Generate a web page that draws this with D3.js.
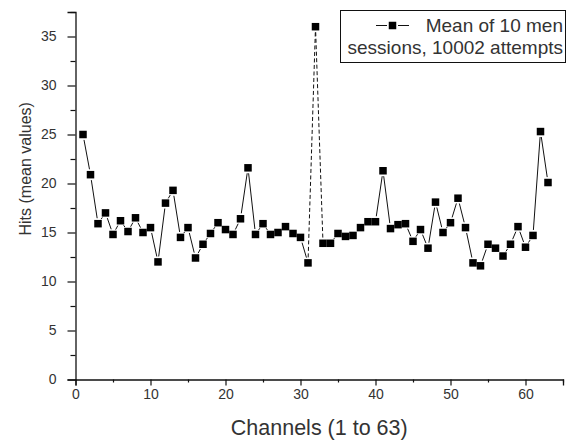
<!DOCTYPE html>
<html>
<head>
<meta charset="utf-8">
<script src="https://cdn.jsdelivr.net/npm/d3@7"></script>
<style>
  html, body { margin: 0; padding: 0; background: #fff; }
  svg { display: block; font-family: Arial, "Liberation Sans", sans-serif; }
</style>
</head>
<body>
<svg id="chart" width="571" height="443"></svg>
<script>
// Channel numbers 1..63
const channels = [
  1, 2, 3, 4, 5, 6, 7, 8, 9, 10,
  11, 12, 13, 14, 15, 16, 17, 18, 19, 20,
  21, 22, 23, 24, 25, 26, 27, 28, 29, 30,
  31, 32, 33, 34, 35, 36, 37, 38, 39, 40,
  41, 42, 43, 44, 45, 46, 47, 48, 49, 50,
  51, 52, 53, 54, 55, 56, 57, 58, 59, 60,
  61, 62, 63
];

// Mean hits per channel (10 men sessions, 10002 attempts)
const meanHits = [
  25.0, 20.9, 15.9, 17.0, 14.8, 16.2, 15.1, 16.5, 15.0, 15.5,
  12.0, 18.0, 19.3, 14.5, 15.5, 12.4, 13.8, 14.9, 16.0, 15.3,
  14.8, 16.4, 21.6, 14.8, 15.9, 14.8, 15.0, 15.6, 14.9, 14.5,
  11.9, 36.0, 13.9, 13.9, 14.9, 14.6, 14.7, 15.5, 16.1, 16.1,
  21.3, 15.4, 15.8, 15.9, 14.1, 15.3, 13.4, 18.1, 15.0, 16.0,
  18.5, 15.5, 11.9, 11.6, 13.8, 13.4, 12.6, 13.8, 15.6, 13.5,
  14.7, 25.3, 20.1
];

// Segments touching these channels are drawn dashed
const dashedChannels = [32];

const xMajorTicks = [0, 10, 20, 30, 40, 50, 60];
const xMinorTicks = [5, 15, 25, 35, 45, 55, 65];
const yMajorTicks = [0, 5, 10, 15, 20, 25, 30, 35];
const yMinorTicks = [2.5, 7.5, 12.5, 17.5, 22.5, 27.5, 32.5, 37.5];

const xTitle = "Channels (1 to 63)";
const yTitle = "Hits  (mean values)";
const legendLines = ["Mean of 10 men", "sessions, 10002 attempts"];

const svg = d3.select("#chart");

const x = d3.scaleLinear().domain([0, 65]).range([75.5, 563]);
const y = d3.scaleLinear().domain([0, 37.5]).range([379.5, 12]);

const axisColor = "#111";
const labelColor = "#333";

// X axis
const gx = svg.append("g").attr("transform", `translate(0,${y(0)})`);
gx.call(d3.axisBottom(x).tickValues(xMajorTicks).tickSize(6).tickPadding(4).tickFormat(d3.format("d")));
gx.append("g").call(d3.axisBottom(x).tickValues(xMinorTicks).tickSize(3).tickFormat(""))
  .select(".domain").remove();

// Y axis
const gy = svg.append("g").attr("transform", `translate(${x(0)},0)`);
gy.call(d3.axisLeft(y).tickValues(yMajorTicks).tickSize(8).tickPadding(11).tickFormat(d3.format("d")));
gy.append("g").call(d3.axisLeft(y).tickValues(yMinorTicks).tickSize(5).tickFormat(""))
  .select(".domain").remove();

svg.selectAll(".domain").attr("stroke", axisColor).attr("stroke-width", 1.3);
svg.selectAll(".tick line").attr("stroke", axisColor).attr("stroke-width", 1.2);
svg.selectAll(".tick text")
  .attr("fill", labelColor)
  .style("font-size", "14px")
  .style("font-family", "Arial, 'Liberation Sans', sans-serif");

// Axis titles
svg.append("text")
  .attr("x", x(32.5)).attr("y", 435)
  .attr("text-anchor", "middle")
  .attr("fill", labelColor)
  .style("font-size", "21.5px")
  .text(xTitle);

svg.append("text")
  .attr("transform", `translate(31,${y(21.5)}) rotate(-90)`)
  .attr("text-anchor", "middle")
  .attr("fill", labelColor)
  .style("font-size", "16px")
  .text(yTitle);

// Connecting segments, trimmed so they stop short of the square markers
const pts = channels.map((c, i) => ({ c, v: meanHits[i], px: x(c), py: y(meanHits[i]) }));
const gap = 5.5;
const segs = [];
for (let i = 0; i < pts.length - 1; i++) {
  const a = pts[i], b = pts[i + 1];
  const dx = b.px - a.px, dy = b.py - a.py;
  const len = Math.hypot(dx, dy);
  if (len <= 2 * gap + 0.5) continue;
  const ux = dx / len, uy = dy / len;
  segs.push({
    x1: a.px + ux * gap, y1: a.py + uy * gap,
    x2: b.px - ux * gap, y2: b.py - uy * gap,
    dashed: dashedChannels.includes(a.c) || dashedChannels.includes(b.c)
  });
}

svg.append("g").selectAll("line").data(segs).join("line")
  .attr("x1", d => d.x1).attr("y1", d => d.y1)
  .attr("x2", d => d.x2).attr("y2", d => d.y2)
  .attr("stroke", "#111")
  .attr("stroke-width", 1)
  .attr("stroke-dasharray", d => d.dashed ? "4,2.5" : null);

// Square markers
const ms = 7.5;
svg.append("g").selectAll("rect").data(pts).join("rect")
  .attr("x", d => d.px - ms / 2)
  .attr("y", d => d.py - ms / 2)
  .attr("width", ms).attr("height", ms)
  .attr("fill", "#000");

// Legend
const lg = svg.append("g");
lg.append("rect")
  .attr("x", 340.5).attr("y", 10.5)
  .attr("width", 225).attr("height", 52)
  .attr("fill", "#fff").attr("stroke", "#111").attr("stroke-width", 1);
lg.append("line").attr("x1", 376).attr("x2", 387).attr("y1", 25.5).attr("y2", 25.5)
  .attr("stroke", "#111").attr("stroke-width", 1);
lg.append("line").attr("x1", 398).attr("x2", 409).attr("y1", 25.5).attr("y2", 25.5)
  .attr("stroke", "#111").attr("stroke-width", 1);
lg.append("rect").attr("x", 392.5 - ms / 2).attr("y", 25.5 - ms / 2)
  .attr("width", ms).attr("height", ms).attr("fill", "#000");
lg.selectAll("text.leg").data(legendLines).join("text")
  .attr("class", "leg")
  .attr("x", 563).attr("y", (d, i) => 31.5 + i * 22)
  .attr("text-anchor", "end")
  .attr("fill", labelColor)
  .style("font-size", "19px")
  .text(d => d);
</script>
</body>
</html>
